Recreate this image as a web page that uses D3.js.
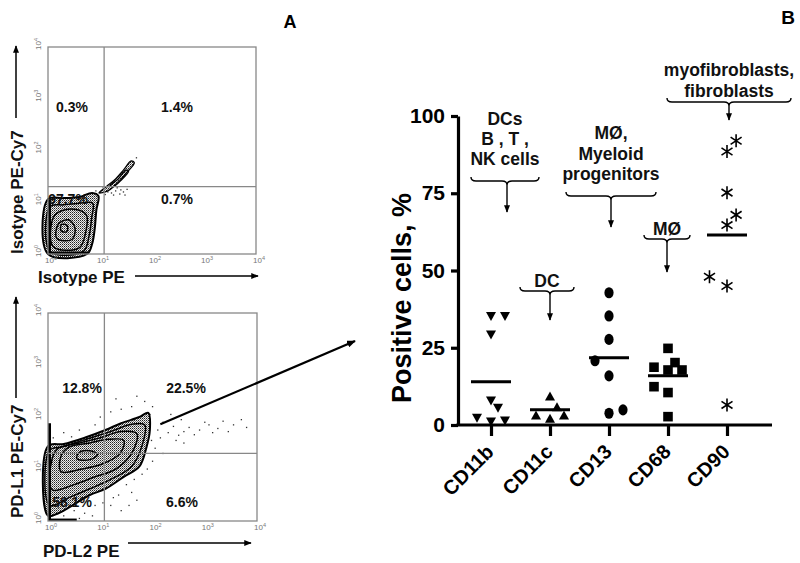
<!DOCTYPE html>
<html><head><meta charset="utf-8">
<script src="https://cdnjs.cloudflare.com/ajax/libs/d3/7.8.5/d3.min.js"></script>
<style>html,body{margin:0;padding:0;background:#fff}svg{display:block}</style>
</head><body><svg id="c" width="800" height="563"></svg>
<script>
// ---------------- DATA ----------------
// Panel B: column scatter (percent positive cells)
const categories = ["CD11b","CD11c","CD13","CD68","CD90"];
const cd11bValues = [35.1,35.1,29.1,7.8,5.4,2.2,1.0,1.3];
const cd11cValues = [9.4,5.9,3.2,3.2,2.2];
const cd13Values  = [42.8,35.3,27.7,20.8,15.9,3.8,4.9];
const cd68Values  = [24.8,18.7,20.2,17.8,17.8,12.4,10.5,2.7];
const cd90Values  = [92,88.5,75.2,68,64.7,48,45,6.5];
// side-by-side slot of each point within its column (column-scatter layout)
const cd11bSlots = [0,1,0,0,0.5,-1,0,1];
const cd11cSlots = [0,0.5,-1,1,0];
const cd13Slots  = [0,0,0,-1,0,0,1];
const cd68Slots  = [0,-1,0.5,0,1,-1,0,0];
const cd90Slots  = [0.65,0,0,0.65,0,-1.25,0,0];
const meanValues = [14.0,4.9,21.8,15.9,61.5];
const yTickValues = [0,25,50,75,100];
const annotations = [
  {cat:"CD11b", lines:["DCs","B , T ,","NK  cells"]},
  {cat:"CD11c", lines:["DC"]},
  {cat:"CD13",  lines:["MØ,","Myeloid","progenitors"]},
  {cat:"CD68",  lines:["MØ"]},
  {cat:"CD90",  lines:["myofibroblasts,","fibroblasts"]}
];

// Panel A: flow cytometry (log10 decades)
const decadeTicks = [0,1,2,3,4];
const gateX = 12, gateY = 20;
const isoQuadrants = ["0.3%","1.4%","97.7%","0.7%"];   // UL, UR, LL, LR
const pdQuadrants  = ["12.8%","22.5%","58.1%","6.6%"];
const isoContours = [
  [[0,0],[0.75,0],[0.85,0.2],[0.9,0.5],[0.93,0.85],[0.97,1.12],[0.85,1.18],[0.6,1.1],[0.3,1.08],[0,1.06]],
  [[0.04,0.05],[0.68,0.05],[0.79,0.35],[0.84,0.7],[0.86,0.98],[0.6,0.98],[0.3,0.95],[0.04,0.92]],
  [[0.1,0.14],[0.6,0.12],[0.72,0.4],[0.74,0.75],[0.55,0.86],[0.25,0.83],[0.1,0.7]],
  [[0.17,0.3],[0.46,0.28],[0.52,0.5],[0.4,0.66],[0.2,0.58]],
  [[0.25,0.45],[0.36,0.43],[0.37,0.55],[0.26,0.57]]
];
const isoTail = [
  [[0.98,1.18],[1.12,1.3],[1.3,1.45],[1.45,1.62],[1.6,1.8],[1.66,1.76],[1.5,1.56],[1.35,1.38],[1.15,1.22]],
  [[1.2,1.32],[1.35,1.45],[1.5,1.62],[1.55,1.6],[1.4,1.42],[1.25,1.3]]
];
const isoDots = [[1.15,1.2],[1.22,1.18],[1.3,1.22],[1.38,1.16],[1.45,1.2],[1.52,1.25],[1.2,1.26],[1.33,1.28],[1.4,1.24],[1.1,1.15],[1.26,1.14],[1.48,1.14],[1.7,1.86],[1.05,1.3],[0.92,1.22]];
const isoPileX = [0,0.78], isoPileY = [0,1.05];
const pdContours = [
  [[0,0.1],[0.2,0.15],[0.5,0.32],[0.8,0.5],[1.1,0.62],[1.45,0.85],[1.75,1.05],[1.88,1.4],[1.95,1.75],[1.92,2.08],[1.75,2.0],[1.4,1.88],[1.1,1.75],[0.7,1.6],[0.3,1.48],[0,1.44]],
  [[0.03,0.3],[0.4,0.45],[0.8,0.62],[1.2,0.8],[1.6,1.05],[1.8,1.45],[1.85,1.85],[1.6,1.86],[1.2,1.72],[0.7,1.56],[0.3,1.43],[0.03,1.36]],
  [[0.08,0.6],[0.5,0.7],[0.9,0.85],[1.3,1.0],[1.6,1.3],[1.7,1.68],[1.4,1.72],[1.0,1.6],[0.6,1.5],[0.2,1.4],[0.08,1.2]],
  [[0.25,0.95],[0.65,1.0],[1.05,1.1],[1.38,1.3],[1.45,1.55],[1.15,1.57],[0.8,1.5],[0.4,1.42],[0.25,1.25]],
  [[0.55,1.2],[0.8,1.18],[0.95,1.28],[0.8,1.35],[0.6,1.32]]
];
const pdDots = [
  [2.1,1.75],[2.2,1.9],[2.3,1.7],[2.4,1.82],[2.5,1.65],[2.55,1.95],[2.6,1.72],[2.7,1.8],[2.8,1.66],[2.9,1.75],
  [3.0,1.9],[3.08,1.85],[3.15,1.7],[3.25,1.78],[3.35,1.92],[3.45,1.72],[3.55,1.85],[3.7,1.95],[3.8,1.8],[2.35,2.05],
  [2.0,2.2],[1.85,2.3],[1.6,2.2],[1.4,2.15],[1.3,2.35],[1.2,2.1],[1.7,2.4],[1.95,2.05],[2.15,1.6],[2.45,1.55],
  [1.2,0.3],[1.35,0.5],[1.5,0.7],[1.6,0.55],[1.8,0.9],[1.9,1.0],[1.4,0.2],[1.7,0.4],[2.0,1.15],[1.25,0.45],
  [0.3,0.1],[0.5,0.2],[0.7,0.15],[0.9,0.3],[0.6,0.05],[0.2,0.25],[1.05,0.35],[0.85,0.1],[1.55,0.3],[1.65,0.8],
  [0.1,1.6],[0.3,1.7],[0.6,1.75],[0.9,1.85],[1.0,2.0],[0.45,1.62],[2.05,1.4],[2.2,1.3],[1.98,1.55],[2.6,1.5]
];
const pdPileY = [0,1.88], pdPileX = [0,0.55];

// ---------------- DRAW ----------------
const F = "'Liberation Sans', Arial, Helvetica, sans-serif";
const svg = d3.select("#c");
svg.append("rect").attr("width",800).attr("height",563).attr("fill","#fff");
const defs = svg.append("defs");
const pat = defs.append("pattern").attr("id","stip").attr("width",2).attr("height",2).attr("patternUnits","userSpaceOnUse");
pat.append("rect").attr("width",2).attr("height",2).attr("fill","#eee");
pat.append("rect").attr("width",1).attr("height",1).attr("fill","#222");
pat.append("rect").attr("x",1).attr("y",1).attr("width",1).attr("height",1).attr("fill","#777");
defs.append("marker").attr("id","ah").attr("viewBox","0 0 10 8").attr("refX",9).attr("refY",4)
  .attr("markerWidth",8).attr("markerHeight",6).attr("markerUnits","userSpaceOnUse").attr("orient","auto")
  .append("path").attr("d","M0,0L10,4L0,8Z").attr("fill","#000");
defs.append("marker").attr("id","ah2").attr("viewBox","0 0 10 8").attr("refX",9).attr("refY",4)
  .attr("markerWidth",9).attr("markerHeight",7).attr("markerUnits","userSpaceOnUse").attr("orient","auto")
  .append("path").attr("d","M0,0L10,4L0,8Z").attr("fill","#000");

function drawFlow(x0,x1,y0,y1,contours,tails,dots,pileX,pileY,quads,xLabel,yLabel,lbl){
  const xs = d3.scaleLog().domain([1,1e4]).range([x0,x1]);
  const ys = d3.scaleLog().domain([1,1e4]).range([y1,y0]);
  const g = svg.append("g");
  const P = d=>[xs(Math.pow(10,d[0])), ys(Math.pow(10,d[1]))];
  const line = d3.line().x(d=>P(d)[0]).y(d=>P(d)[1]).curve(d3.curveCatmullRomClosed.alpha(0.5));
  g.append("path").attr("d",line(contours[0])).attr("fill","url(#stip)").attr("stroke","none");
  tails.forEach((t,i)=>{ if(i===0) g.append("path").attr("d",line(t)).attr("fill","url(#stip)"); });
  dots.forEach(d=>{ g.append("rect").attr("x",P(d)[0]-0.6).attr("y",P(d)[1]-0.6).attr("width",1.3).attr("height",1.3).attr("fill","#333"); });
  contours.forEach((c,i)=>{
    g.append("path").attr("d",line(c)).attr("fill","none").attr("stroke","#000").attr("stroke-width", i===0?2:1.5);
  });
  tails.forEach(t=>g.append("path").attr("d",line(t)).attr("fill","none").attr("stroke","#000").attr("stroke-width",1.3));
  g.append("line").attr("x1",xs(Math.pow(10,pileX[0]))+1).attr("x2",xs(Math.pow(10,pileX[1])))
    .attr("y1",ys(1)-1.2).attr("y2",ys(1)-1.2).attr("stroke","#000").attr("stroke-width",2.5);
  g.append("line").attr("x1",xs(1)+1.5).attr("x2",xs(1)+1.5)
    .attr("y1",ys(Math.pow(10,pileY[0]))).attr("y2",ys(Math.pow(10,pileY[1]))).attr("stroke","#000").attr("stroke-width",3);
  g.append("rect").attr("x",x0).attr("y",y0).attr("width",x1-x0).attr("height",y1-y0)
    .attr("fill","none").attr("stroke","#888").attr("stroke-width",1.3);
  g.append("line").attr("x1",xs(gateX)).attr("x2",xs(gateX)).attr("y1",y0).attr("y2",y1).attr("stroke","#888").attr("stroke-width",1.3);
  g.append("line").attr("x1",x0).attr("x2",x1).attr("y1",ys(gateY)).attr("y2",ys(gateY)).attr("stroke","#888").attr("stroke-width",1.3);
  decadeTicks.forEach(e=>{
    const t = g.append("text").attr("x",xs(Math.pow(10,e))+3).attr("y",y1+9).attr("text-anchor","middle")
      .attr("font-family",F).attr("font-size",8).attr("fill","#777");
    t.append("tspan").text("10"); t.append("tspan").attr("dy",-3).attr("font-size",5.5).text(e);
    const ty = g.append("text").attr("transform",`translate(${x0-7},${ys(Math.pow(10,e))-3}) rotate(-90)`)
      .attr("text-anchor","middle").attr("font-family",F).attr("font-size",8).attr("fill","#777");
    ty.append("tspan").text("10"); ty.append("tspan").attr("dy",-3).attr("font-size",5.5).text(e);
  });
  const qpos = [[lbl.ulx,lbl.uy],[lbl.urx,lbl.uy],[lbl.llx,lbl.ly],[lbl.lrx,lbl.ly]];
  quads.forEach((q,i)=>{
    g.append("text").attr("x",qpos[i][0]).attr("y",qpos[i][1]).attr("text-anchor","middle").attr("dominant-baseline","central")
      .attr("font-family",F).attr("font-weight","bold").attr("font-size",14).attr("fill","#111").text(q);
  });
  g.append("text").attr("x",xLabel.x).attr("y",xLabel.y).attr("font-family",F).attr("font-weight","bold")
    .attr("font-size",17).attr("fill","#111").text(xLabel.text);
  g.append("line").attr("x1",xLabel.a0).attr("x2",xLabel.a1).attr("y1",xLabel.ay).attr("y2",xLabel.ay)
    .attr("stroke","#000").attr("stroke-width",1.5).attr("marker-end","url(#ah)");
  g.append("text").attr("transform",`translate(${yLabel.x},${yLabel.y}) rotate(-90)`).attr("font-family",F).attr("font-weight","bold")
    .attr("font-size",17).attr("fill","#111").text(yLabel.text);
  g.append("line").attr("x1",yLabel.ax).attr("x2",yLabel.ax).attr("y1",yLabel.a0).attr("y2",yLabel.a1)
    .attr("stroke","#000").attr("stroke-width",1.5).attr("marker-end","url(#ah)");
  return {xs,ys};
}

drawFlow(48,256,47,254,isoContours,isoTail,isoDots,isoPileX,isoPileY,isoQuadrants,
  {text:"Isotype PE",x:38,y:283,a0:135,a1:258,ay:276},
  {text:"Isotype PE-Cy7",x:23,y:254,ax:16,a0:118,a1:46},
  {ulx:72,urx:177,llx:68,lrx:177,uy:107,ly:199});
const pd = drawFlow(48,257,313,521,pdContours,[],pdDots,pdPileX,pdPileY,pdQuadrants,
  {text:"PD-L2 PE",x:43,y:557,a0:128,a1:251,ay:543},
  {text:"PD-L1 PE-Cy7",x:23,y:518,ax:16,a0:398,a1:297},
  {ulx:82,urx:186,llx:72,lrx:182,uy:388,ly:502});
svg.append("line").attr("x1",pd.xs(Math.pow(10,2.15))).attr("y1",pd.ys(Math.pow(10,1.86)))
  .attr("x2",355).attr("y2",341).attr("stroke","#000").attr("stroke-width",2.2).attr("marker-end","url(#ah2)");

svg.append("text").attr("x",290).attr("y",28).attr("text-anchor","middle").attr("font-family",F).attr("font-weight","bold").attr("font-size",18).text("A");
svg.append("text").attr("x",788).attr("y",24).attr("text-anchor","middle").attr("font-family",F).attr("font-weight","bold").attr("font-size",19).text("B");

// ---------------- PANEL B ----------------
const y = d3.scaleLinear().domain([0,100]).range([425,116]);
const x = d3.scalePoint().domain(categories).range([491,727]);
const slotW = 14;
const gB = svg.append("g");
const yAxis = gB.append("g").attr("transform","translate(458,0)")
  .call(d3.axisLeft(y).tickValues(yTickValues).tickSize(7).tickSizeOuter(0).tickPadding(6));
yAxis.select(".domain").attr("stroke","#000").attr("stroke-width",3.2);
yAxis.selectAll(".tick line").attr("stroke","#000").attr("stroke-width",3.2);
yAxis.selectAll(".tick text").attr("font-family",F).attr("font-weight","bold").attr("font-size",21).attr("fill","#000");
gB.append("line").attr("x1",456.4).attr("x2",772).attr("y1",y(0)).attr("y2",y(0)).attr("stroke","#000").attr("stroke-width",3.2);
const xAxis = gB.append("g").attr("transform",`translate(0,${y(0)})`)
  .call(d3.axisBottom(x).tickSize(11).tickSizeOuter(0).tickFormat(""));
xAxis.select(".domain").remove();
xAxis.selectAll(".tick line").attr("stroke","#000").attr("stroke-width",3.2);
categories.forEach(c=>{
  gB.append("text").attr("transform",`translate(${x(c)+4},${y(0)+28}) rotate(-45)`).attr("text-anchor","end")
    .attr("font-family",F).attr("font-weight","bold").attr("font-size",20).attr("fill","#000").text(c);
});
gB.append("text").attr("transform",`translate(411,298) rotate(-90)`).attr("text-anchor","middle")
  .attr("font-family",F).attr("font-weight","bold").attr("font-size",27).attr("fill","#000").text("Positive cells, %");

const series = [
  {cat:"CD11b", v:cd11bValues, s:cd11bSlots, shape:"tdown"},
  {cat:"CD11c", v:cd11cValues, s:cd11cSlots, shape:"tup"},
  {cat:"CD13",  v:cd13Values,  s:cd13Slots,  shape:"circle"},
  {cat:"CD68",  v:cd68Values,  s:cd68Slots,  shape:"square"},
  {cat:"CD90",  v:cd90Values,  s:cd90Slots,  shape:"star"}
];
const shapePath = {
  tdown:"M-5,-4.5L5,-4.5L0,4.5Z",
  tup:"M-5,4.5L5,4.5L0,-4.5Z",
  square:"M-4.8,-4.8H4.8V4.8H-4.8Z"
};
series.forEach((sr,k)=>{
  sr.v.forEach((v,i)=>{
    const px = x(sr.cat) + sr.s[i]*slotW, py = y(v);
    if(sr.shape==="circle"){
      gB.append("ellipse").attr("cx",px).attr("cy",py).attr("rx",4.6).attr("ry",5.6).attr("fill","#000");
    } else if(sr.shape==="star"){
      gB.append("path").attr("transform",`translate(${px},${py})`)
        .attr("d","M0,-6.5V6.5M-5.5,-3.6L5.5,3.6M-5.5,3.6L5.5,-3.6").attr("stroke","#000").attr("stroke-width",1.6).attr("fill","none");
    } else {
      gB.append("path").attr("transform",`translate(${px},${py})`).attr("d",shapePath[sr.shape]).attr("fill","#000");
    }
  });
  gB.append("line").attr("x1",x(sr.cat)-20).attr("x2",x(sr.cat)+20).attr("y1",y(meanValues[k])).attr("y2",y(meanValues[k]))
    .attr("stroke","#000").attr("stroke-width",3);
});

const annLayout = {
  CD11b:{cx:505, ax:507, half:34, top:177, tip:212, ty:[119,139,159]},
  CD11c:{cx:547, ax:550, half:27, top:287, tip:320, ty:[281]},
  CD13: {cx:611, ax:611, half:45, top:192, tip:227, ty:[133,154,174]},
  CD68: {cx:667, ax:667, half:23, top:235, tip:272, ty:[229]},
  CD90: {cx:729, ax:729, half:62, top:98,  tip:120, ty:[70,91]}
};
function bracePath(cx,ax,half,top){
  const x0=cx-half, x1=cx+half, yb=top+4, r=5, yc=top+8;
  return `M${x0},${top}Q${x0},${yb} ${x0+r},${yb}L${ax-r},${yb}Q${ax},${yb} ${ax},${yc}Q${ax},${yb} ${ax+r},${yb}L${x1-r},${yb}Q${x1},${yb} ${x1},${top}`;
}
annotations.forEach(a=>{
  const L = annLayout[a.cat];
  a.lines.forEach((t,i)=>{
    gB.append("text").attr("x",L.cx).attr("y",L.ty[i]).attr("text-anchor","middle").attr("dominant-baseline","central")
      .attr("font-family",F).attr("font-weight","bold").attr("font-size",17.5).attr("fill","#111").text(t);
  });
  gB.append("path").attr("d",bracePath(L.cx,L.ax,L.half,L.top)).attr("fill","none").attr("stroke","#000").attr("stroke-width",1.4);
  gB.append("line").attr("x1",L.ax).attr("x2",L.ax).attr("y1",L.top+8).attr("y2",L.tip)
    .attr("stroke","#000").attr("stroke-width",1.4).attr("marker-end","url(#ah)");
});
</script></body></html>
